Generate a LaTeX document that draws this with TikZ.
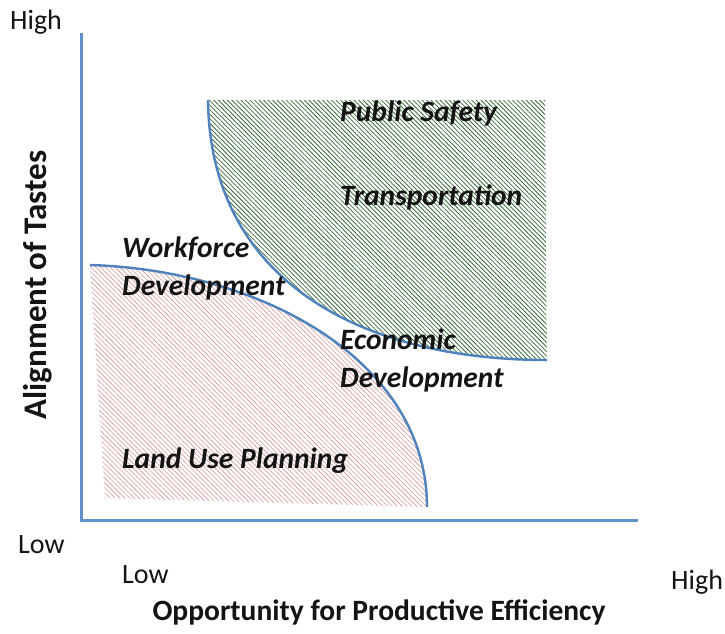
\documentclass[tikz,border=0pt]{standalone}
\usepackage{fontspec}
\setmainfont{Carlito}
\usetikzlibrary{patterns.meta}
\definecolor{axisblue}{RGB}{98,144,200}
\definecolor{curveblue}{RGB}{79,129,189}
\definecolor{hatchgreen}{RGB}{60,110,60}
\definecolor{hatchpink}{RGB}{215,150,150}
\definecolor{labeltext}{RGB}{20,20,20}
\begin{document}
\begin{tikzpicture}[x=1pt,y=-1pt,
  axisline/.style={draw=axisblue,line width=3pt},
  curveline/.style={draw=curveblue,line width=2.4pt},
  areatext/.style={anchor=west,inner sep=0pt,font=\fontsize{29.5}{38}\selectfont\bfseries\itshape,text=labeltext,align=left},
  scaletext/.style={anchor=west,inner sep=0pt,font=\fontsize{28}{30}\selectfont,text=labeltext},
  titletext/.style={inner sep=0pt,font=\fontsize{29.5}{32}\selectfont\bfseries,text=labeltext}]
\fill[white] (0,0) rectangle (725,633);
\useasboundingbox (0,0) rectangle (725,633);
% regions
\fill[pattern={Lines[angle=-45,distance=3.2pt,line width=0.8pt]},pattern color=hatchgreen]
  (208,100) -- (545,100) -- (547,360) .. controls (360,360) and (210,280) .. (208,100) -- cycle;
\fill[pattern={Lines[angle=-45,distance=3.4pt,line width=0.6pt]},pattern color=hatchpink]
  (90,265) .. controls (260,270) and (427,360) .. (427,507) -- (105,498) -- cycle;
% boundaries
\draw[curveline] (208,100) .. controls (210,280) and (360,360) .. (547,360);
\draw[curveline] (90,265) .. controls (260,270) and (427,360) .. (427,507);
% axes
\coordinate (ytop) at (81,33);
\coordinate (origin) at (81,520);
\coordinate (xend) at (638,520);
\draw[axisline] (ytop) -- (origin) -- (xend);
% labels
\node[areatext] (ps) at (340,113) {Public Safety};
\node[areatext] (tr) at (340,197) {Transportation};
\node[areatext] (wf) at (122,268) {Workforce\\Development};
\node[areatext] (ed) at (340,360) {Economic\\Development};
\node[areatext] (lu) at (122,461) {Land Use Planning};
\node[scaletext] (yhigh) at (10,22) {High};
\node[scaletext] (ylow) at (18,545) {Low};
\node[scaletext] (xlow) at (122,575) {Low};
\node[scaletext] (xhigh) at (671,582) {High};
\node[titletext] (xtitle) at (379,612) {Opportunity for Productive Efficiency};
\node[titletext,rotate=90,font=\fontsize{33}{36}\selectfont\bfseries] (ytitle) at (38,285) {Alignment of Tastes};
\end{tikzpicture}
\end{document}
